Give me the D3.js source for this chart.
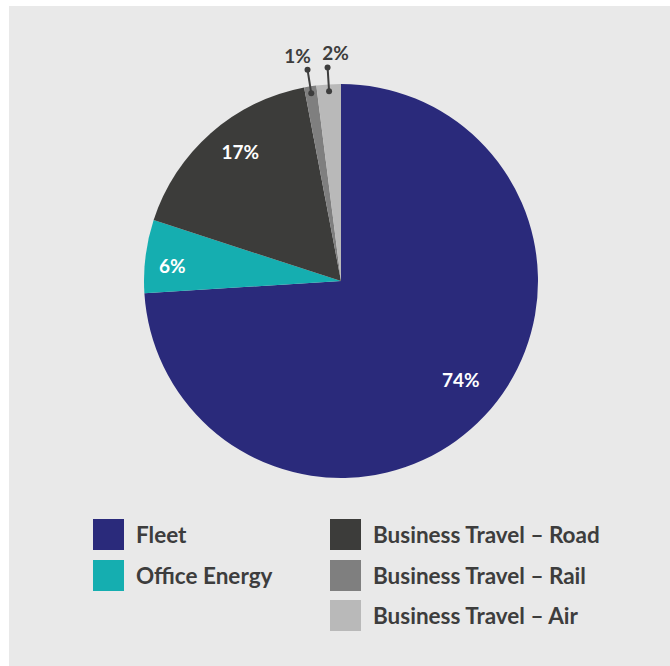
<!DOCTYPE html>
<html>
<head>
<meta charset="utf-8">
<script src="https://cdn.jsdelivr.net/npm/d3@7"></script>
<style>
  html, body { margin: 0; padding: 0; background: #ffffff; }
  svg { display: block; }
  text { font-family: "Lato", "Open Sans", sans-serif; font-weight: 700; }
</style>
</head>
<body>
<svg id="chart" width="670" height="666"></svg>
<script>
// Emission sources and their share of the total (%)
const categories = ["Fleet", "Office Energy", "Business Travel – Road", "Business Travel – Rail", "Business Travel – Air"];
const shares = [74, 6, 17, 1, 2];
const colors = ["#2a2a7b", "#15aeb0", "#3c3c3a", "#7f7f7f", "#b9b9b9"];
// Slices too thin for an inside label get a leader line instead
const outsideLabel = [false, false, false, true, true];

const svg = d3.select("#chart");
const W = 670, H = 666;

// panel background
svg.append("rect")
  .attr("x", 9).attr("y", 6)
  .attr("width", W - 9).attr("height", H - 6)
  .attr("fill", "#e9e9e9");

const cx = 341, cy = 281, R = 197;
const g = svg.append("g").attr("transform", `translate(${cx},${cy})`);

const data = categories.map((c, i) => ({ name: c, value: shares[i], color: colors[i], outside: outsideLabel[i] }));

const pie = d3.pie().value(d => d.value).sort(null);
const arcs = pie(data);
const arc = d3.arc().innerRadius(0).outerRadius(R);

g.selectAll("path.slice")
  .data(arcs)
  .join("path")
  .attr("class", "slice")
  .attr("d", arc)
  .attr("fill", d => d.data.color);

// labels inside the big slices: centroid on a ring, then a small hand nudge
const labelArc = d3.arc().innerRadius(163).outerRadius(163);
const labelNudge = { "Fleet": [1, -12], "Office Energy": [-7, 6], "Business Travel – Road": [7, -6] };
const insidePos = d => {
  const c = labelArc.centroid(d);
  const n = labelNudge[d.data.name];
  return [c[0] + n[0], c[1] + n[1]];
};
g.selectAll("text.inlabel")
  .data(arcs.filter(d => !d.data.outside))
  .join("text")
  .attr("class", "inlabel")
  .attr("x", d => insidePos(d)[0])
  .attr("y", d => insidePos(d)[1])
  .attr("dy", "0.35em")
  .attr("text-anchor", "middle")
  .attr("fill", "#ffffff")
  .attr("font-size", 19)
  .text(d => d.data.value + "%");

// leader lines for the thin slices
const ink = "#3d3d3d";
const innerArc = d3.arc().innerRadius(190).outerRadius(190);
const outerArc = d3.arc().innerRadius(214).outerRadius(214);
const thin = arcs.filter(d => d.data.outside);

thin.forEach((d, k) => {
  const p0 = innerArc.centroid(d);
  const p1 = outerArc.centroid(d);
  g.append("line")
    .attr("x1", p0[0]).attr("y1", p0[1])
    .attr("x2", p1[0]).attr("y2", p1[1])
    .attr("stroke", ink).attr("stroke-width", 2);
  [p0, p1].forEach(p => g.append("circle").attr("cx", p[0]).attr("cy", p[1]).attr("r", 3).attr("fill", ink));
  g.append("text")
    .attr("x", p1[0] + (k === 0 ? -10 : 8))
    .attr("y", p1[1] - 7)
    .attr("text-anchor", "middle")
    .attr("fill", ink)
    .attr("font-size", 19)
    .text(d.data.value + "%");
});

// legend: two columns
const legend = svg.append("g");
const colX = [93, 330];
const rowY = [519, 560, 600];
data.forEach((d, i) => {
  const col = i < 2 ? 0 : 1;
  const row = i < 2 ? i : i - 2;
  const x = colX[col], y = rowY[row];
  legend.append("rect")
    .attr("x", x).attr("y", y)
    .attr("width", 31).attr("height", 31)
    .attr("fill", d.color);
  legend.append("text")
    .attr("x", x + 43).attr("y", y + 24)
    .attr("fill", ink)
    .attr("font-size", 22.5)
    .text(d.name);
});
</script>
</body>
</html>
